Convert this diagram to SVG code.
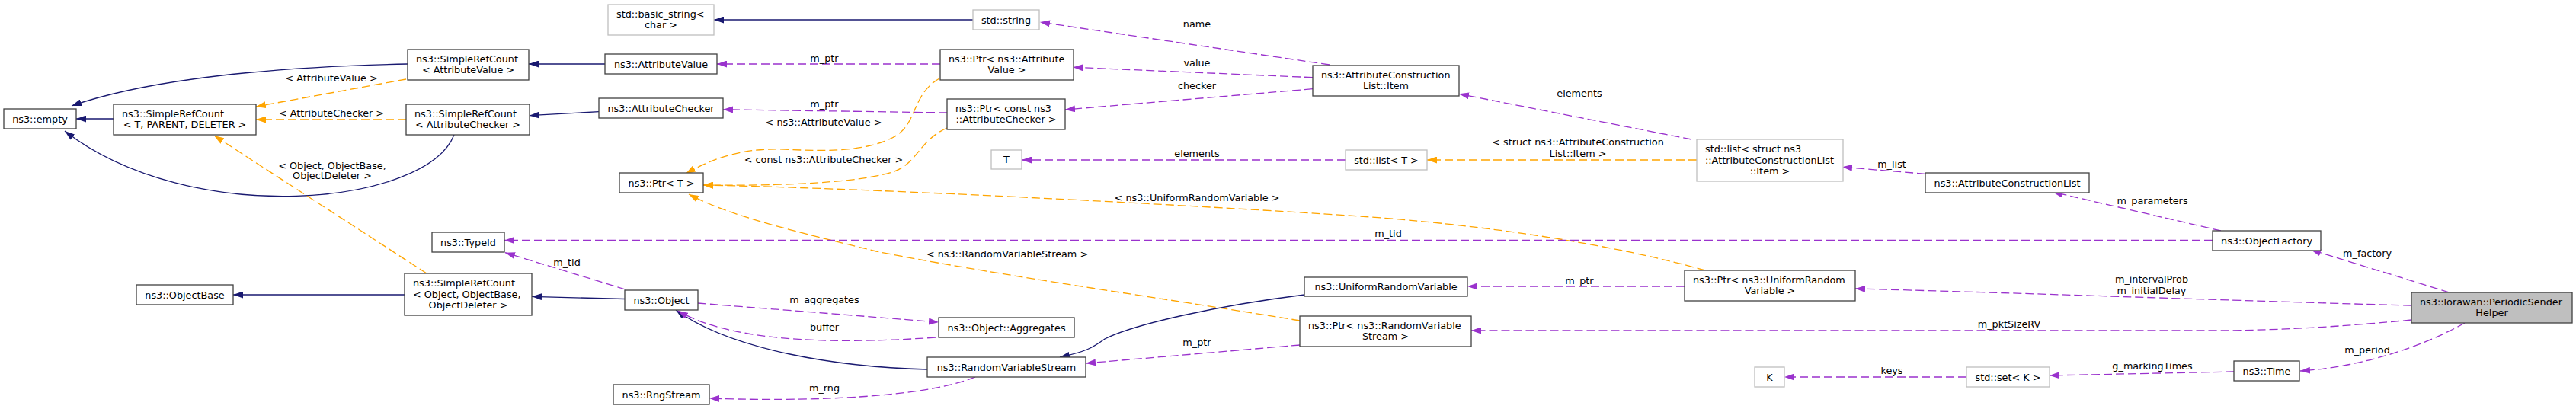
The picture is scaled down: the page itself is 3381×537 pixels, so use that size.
<svg xmlns="http://www.w3.org/2000/svg" width="3381" height="537" viewBox="0 0 3381 537">
<style>
text{font-family:"DejaVu Sans","Liberation Sans",sans-serif;font-size:12.8px;fill:#000}
.m{text-anchor:middle}
.n rect{fill:#fff;stroke:#404040;stroke-width:1.3}
.n.g rect{stroke:#bfbfbf}
.n.h rect{fill:#bfbfbf}
path.e{fill:none;stroke-width:1.3}
.inh{stroke:#191970;marker-end:url(#aInh)}
.use{stroke:#9a32cd;stroke-dasharray:11,5;marker-end:url(#aUse)}
.tpl{stroke:#ffa500;stroke-dasharray:11,5;marker-end:url(#aTpl)}
</style>
<defs>
<marker id="aInh" markerUnits="userSpaceOnUse" viewBox="0 0 13 9" refX="13" refY="4.5" markerWidth="13" markerHeight="9" orient="auto"><path d="M0,0L13,4.5L0,9z" fill="#191970"/></marker>
<marker id="aUse" markerUnits="userSpaceOnUse" viewBox="0 0 13 9" refX="13" refY="4.5" markerWidth="13" markerHeight="9" orient="auto"><path d="M0,0L13,4.5L0,9z" fill="#9a32cd"/></marker>
<marker id="aTpl" markerUnits="userSpaceOnUse" viewBox="0 0 13 9" refX="13" refY="4.5" markerWidth="13" markerHeight="9" orient="auto"><path d="M0,0L13,4.5L0,9z" fill="#ffa500"/></marker>
</defs>
<rect width="3381" height="537" fill="#fff"/>

<g id="connectors">
  <g><path class="e inh" d="M149,156L100,156"/></g>
  <g><path class="e inh" d="M535,84C430,86 220,95 94,139"/></g>
  <g><path class="e inh" d="M596,177C560,270 250,300 85,172"/></g>
  <g><path class="e inh" d="M531,387L306,387"/></g>
  <g><path class="e inh" d="M794,84L694,84"/></g>
  <g><path class="e inh" d="M786,146.7L695,151.7"/></g>
  <g><path class="e inh" d="M820,392.5L698,389.3"/></g>
  <g><path class="e inh" d="M1277,26L937,26"/></g>
  <g><path class="e inh" d="M1217,485C1100,482 960,460 887,407"/></g>
  <g><path class="e inh" d="M1712,387C1600,401 1490,425 1450,445C1435,456 1425,462 1391,469"/></g>

  <g><path class="e tpl" d="M533,104L336,140"/><text class="m" x="435" y="106.5">&lt; AttributeValue &gt;</text></g>
  <g><path class="e tpl" d="M533,157L336,157"/><text class="m" x="435" y="152.5">&lt; AttributeChecker &gt;</text></g>
  <g><path class="e tpl" d="M560,359L281,178"/><text class="m" x="436" y="221.5">&lt; Object, ObjectBase,</text><text class="m" x="436" y="235">ObjectDeleter &gt;</text></g>
  <g><path class="e tpl" d="M1233,103C1195,125 1205,165 1171,181C1140,196 1100,200 1030,196C980,194 940,205 900,228"/><text class="m" x="1081" y="164.5">&lt; ns3::AttributeValue &gt;</text></g>
  <g><path class="e tpl" d="M1243,168C1205,185 1205,215 1171,226C1120,242 1000,244 923,243"/><text class="m" x="1081" y="213.5">&lt; const ns3::AttributeChecker &gt;</text></g>
  <g><path class="e tpl" d="M2238,355C2150,330 2000,300 1800,285C1500,265 1100,246 923,243"/><text class="m" x="1571" y="263.5">&lt; ns3::UniformRandomVariable &gt;</text></g>
  <g><path class="e tpl" d="M1706,421C1550,395 1300,360 1150,330C1050,305 960,285 904,255"/><text class="m" x="1322" y="337.5">&lt; ns3::RandomVariableStream &gt;</text></g>
  <g><path class="e tpl" d="M2227,210L1873,210"/><text class="m" x="2071" y="191">&lt; struct ns3::AttributeConstruction</text><text class="m" x="2071" y="206">List::Item &gt;</text></g>

  <g><path class="e use" d="M1745,85L1365,29"/><text class="m" x="1571" y="35.5">name</text></g>
  <g><path class="e use" d="M1723,101.7L1408.5,88.3"/><text class="m" x="1571" y="87">value</text></g>
  <g><path class="e use" d="M1723,116.7L1398,144"/><text class="m" x="1571" y="116.5">checker</text></g>
  <g><path class="e use" d="M1234,84L941,84"/><text class="m" x="1082" y="81">m_ptr</text></g>
  <g><path class="e use" d="M1243,148L949,143.8"/><text class="m" x="1082" y="140.5">m_ptr</text></g>
  <g><path class="e use" d="M1766,210L1341,210"/><text class="m" x="1571" y="206">elements</text></g>
  <g><path class="e use" d="M2220,183L1915,123.3"/><text class="m" x="2073" y="127">elements</text></g>
  <g><path class="e use" d="M2527,228.3L2418,219.3"/><text class="m" x="2483" y="219.5">m_list</text></g>
  <g><path class="e use" d="M2915,303L2694,252"/><text class="m" x="2825" y="267.5">m_parameters</text></g>
  <g><path class="e use" d="M2904,315.5L662,315.5"/><text class="m" x="1822" y="311">m_tid</text></g>
  <g><path class="e use" d="M821,380L663,331.7"/><text class="m" x="744" y="348.5">m_tid</text></g>
  <g><path class="e use" d="M916,398L1232,423"/><text class="m" x="1082" y="397.5">m_aggregates</text></g>
  <g><path class="e use" d="M1228,443C1100,452 960,450 890,408"/><text class="m" x="1082" y="433.5">buffer</text></g>
  <g><path class="e use" d="M1280,495C1220,520 1080,528 931,523"/><text class="m" x="1082" y="513.5">m_rng</text></g>
  <g><path class="e use" d="M2211,376L1926,376"/><text class="m" x="2073" y="372.5">m_ptr</text></g>
  <g><path class="e use" d="M1706,453L1425,477"/><text class="m" x="1571" y="453.5">m_ptr</text></g>
  <g><path class="e use" d="M3215,384L3033,328"/><text class="m" x="3107" y="336.5">m_factory</text></g>
  <g><path class="e use" d="M3165,401C3000,397 2700,386 2435,379"/><text class="m" x="2824" y="371">m_intervalProb</text><text class="m" x="2824" y="386">m_initialDelay</text></g>
  <g><path class="e use" d="M3165,420C3080,428 3000,434 2900,434L1931,434"/><text class="m" x="2637" y="430">m_pktSizeRV</text></g>
  <g><path class="e use" d="M3235,424C3180,455 3100,482 3019,487"/><text class="m" x="3107" y="463.5">m_period</text></g>
  <g><path class="e use" d="M2932,488L2690,493"/><text class="m" x="2825" y="484.5">g_markingTimes</text></g>
  <g><path class="e use" d="M2581,495L2342,495"/><text class="m" x="2483" y="491">keys</text></g>
</g>

<g id="n_empty" class="n"><rect x="5" y="143" width="95" height="26"/><text class="m" x="52.5" y="160.5">ns3::empty</text></g>
<g id="n_src_t" class="n"><rect x="149" y="137" width="187" height="40"/><text x="160" y="153.8">ns3::SimpleRefCount</text><text class="m" x="242.5" y="168.2">&lt; T, PARENT, DELETER &gt;</text></g>
<g id="n_objectbase" class="n"><rect x="179" y="374" width="127" height="26"/><text class="m" x="242.5" y="391.5">ns3::ObjectBase</text></g>
<g id="n_src_av" class="n"><rect x="535" y="65" width="159" height="40"/><text x="546" y="81.8">ns3::SimpleRefCount</text><text class="m" x="614.5" y="96.2">&lt; AttributeValue &gt;</text></g>
<g id="n_src_ac" class="n"><rect x="533" y="137" width="162" height="40"/><text x="544" y="153.8">ns3::SimpleRefCount</text><text class="m" x="614" y="168.2">&lt; AttributeChecker &gt;</text></g>
<g id="n_typeid" class="n"><rect x="567" y="305" width="95" height="26"/><text class="m" x="614.5" y="322.5">ns3::TypeId</text></g>
<g id="n_src_obj" class="n"><rect x="531" y="359" width="167" height="55"/><text x="542" y="376.1">ns3::SimpleRefCount</text><text x="542" y="390.5">&lt; Object, ObjectBase,</text><text class="m" x="614.5" y="404.9">ObjectDeleter &gt;</text></g>
<g id="n_basic_string" class="n g"><rect x="798" y="6" width="139" height="40"/><text x="809" y="22.8">std::basic_string&lt;</text><text class="m" x="867.5" y="37.2">char &gt;</text></g>
<g id="n_attributevalue" class="n"><rect x="794" y="71" width="147" height="26"/><text class="m" x="867.5" y="88.5">ns3::AttributeValue</text></g>
<g id="n_attributechecker" class="n"><rect x="786" y="129" width="163" height="26"/><text class="m" x="867.5" y="146.5">ns3::AttributeChecker</text></g>
<g id="n_ptr_t" class="n"><rect x="813" y="227" width="110" height="26"/><text class="m" x="868" y="244.5">ns3::Ptr&lt; T &gt;</text></g>
<g id="n_object" class="n"><rect x="820" y="381" width="96" height="26"/><text class="m" x="868" y="398.5">ns3::Object</text></g>
<g id="n_rngstream" class="n"><rect x="805" y="505" width="126" height="26"/><text class="m" x="868" y="522.5">ns3::RngStream</text></g>
<g id="n_string" class="n g"><rect x="1277" y="13" width="87" height="26"/><text class="m" x="1320.5" y="30.5">std::string</text></g>
<g id="n_ptr_av" class="n"><rect x="1234" y="65" width="175" height="40"/><text x="1245" y="81.8">ns3::Ptr&lt; ns3::Attribute</text><text class="m" x="1321.5" y="96.2">Value &gt;</text></g>
<g id="n_ptr_ac" class="n"><rect x="1243" y="130" width="155" height="40"/><text x="1254" y="146.8">ns3::Ptr&lt; const ns3</text><text class="m" x="1320.5" y="161.2">::AttributeChecker &gt;</text></g>
<g id="n_T" class="n g"><rect x="1301" y="197" width="40" height="25"/><text class="m" x="1321" y="214">T</text></g>
<g id="n_aggregates" class="n"><rect x="1232" y="417" width="178" height="26"/><text class="m" x="1321" y="434.5">ns3::Object::Aggregates</text></g>
<g id="n_rvs" class="n"><rect x="1217" y="469" width="208" height="26"/><text class="m" x="1321" y="486.5">ns3::RandomVariableStream</text></g>
<g id="n_item" class="n"><rect x="1723" y="86" width="192" height="40"/><text x="1734" y="102.8">ns3::AttributeConstruction</text><text class="m" x="1819" y="117.2">List::Item</text></g>
<g id="n_list_t" class="n g"><rect x="1766" y="197" width="107" height="26"/><text class="m" x="1819.5" y="214.5">std::list&lt; T &gt;</text></g>
<g id="n_urv" class="n"><rect x="1712" y="364" width="214" height="25"/><text class="m" x="1819" y="381">ns3::UniformRandomVariable</text></g>
<g id="n_ptr_rvs" class="n"><rect x="1706" y="415" width="225" height="40"/><text x="1717" y="431.8">ns3::Ptr&lt; ns3::RandomVariable</text><text class="m" x="1818.5" y="446.2">Stream &gt;</text></g>
<g id="n_list_item" class="n g"><rect x="2227" y="183" width="192" height="55"/><text x="2238" y="200.1">std::list&lt; struct ns3</text><text x="2238" y="214.5">::AttributeConstructionList</text><text class="m" x="2323" y="228.9">::Item &gt;</text></g>
<g id="n_acl" class="n"><rect x="2527" y="227" width="215" height="26"/><text class="m" x="2634.5" y="244.5">ns3::AttributeConstructionList</text></g>
<g id="n_ptr_urv" class="n"><rect x="2211" y="355" width="224" height="40"/><text x="2222" y="371.8">ns3::Ptr&lt; ns3::UniformRandom</text><text class="m" x="2323" y="386.2">Variable &gt;</text></g>
<g id="n_K" class="n g"><rect x="2303" y="482" width="39" height="26"/><text class="m" x="2322.5" y="499.5">K</text></g>
<g id="n_set_k" class="n g"><rect x="2581" y="482" width="109" height="26"/><text class="m" x="2635.5" y="499.5">std::set&lt; K &gt;</text></g>
<g id="n_objectfactory" class="n"><rect x="2904" y="303" width="142" height="26"/><text class="m" x="2975" y="320.5">ns3::ObjectFactory</text></g>
<g id="n_time" class="n"><rect x="2932" y="474" width="86" height="26"/><text class="m" x="2975" y="491.5">ns3::Time</text></g>
<g id="n_helper" class="n h"><rect x="3165" y="384" width="211" height="40"/><text x="3176" y="400.8">ns3::lorawan::PeriodicSender</text><text class="m" x="3270.5" y="415.2">Helper</text></g>
</svg>
